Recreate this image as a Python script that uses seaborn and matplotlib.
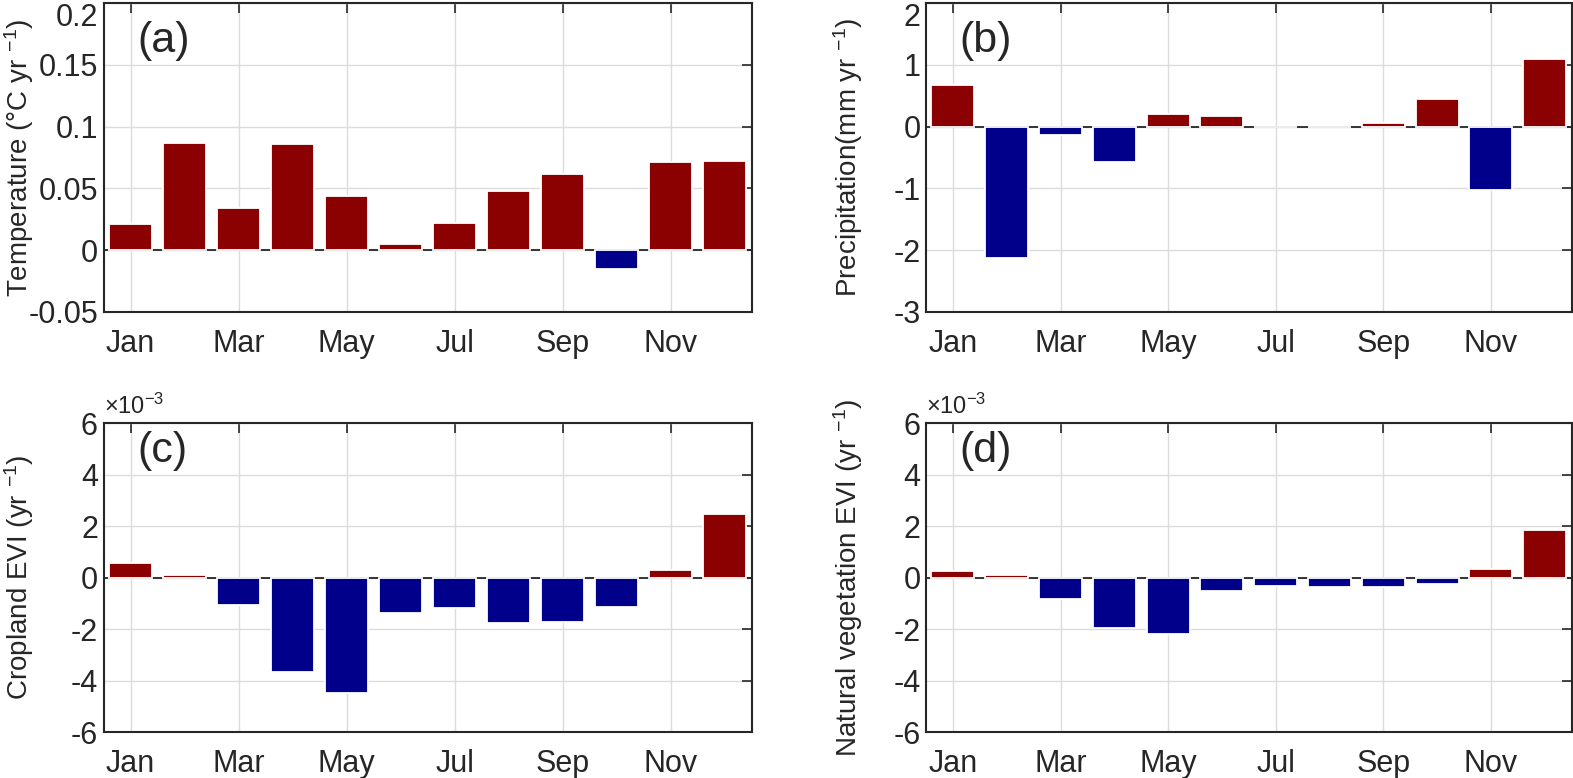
import numpy as np
import pandas as pd
import matplotlib
matplotlib.use('Agg')
import matplotlib.pyplot as plt
import seaborn as sns

months = np.arange(1, 13)
tick_months = [1, 3, 5, 7, 9, 11]
tick_labels = ['Jan', 'Mar', 'May', 'Jul', 'Sep', 'Nov']

# trends, one value per month
temperature = [0.021, 0.087, 0.0345, 0.086, 0.044, 0.005, 0.0224, 0.048, 0.062, -0.0153, 0.071, 0.0726]
precipitation = [0.675, -2.125, -0.13, -0.58, 0.20, 0.17, 0.0, 0.0, 0.055, 0.44, -1.03, 1.09]
cropland_evi = [0.57e-3, 0.12e-3, -1.08e-3, -3.66e-3, -4.50e-3, -1.39e-3, -1.17e-3, -1.77e-3, -1.73e-3, -1.15e-3, 0.28e-3, 2.46e-3]
natural_evi = [0.26e-3, 0.10e-3, -0.81e-3, -1.97e-3, -2.17e-3, -0.53e-3, -0.31e-3, -0.36e-3, -0.36e-3, -0.23e-3, 0.34e-3, 1.85e-3]

sns.set_style('white')
plt.rcParams['font.family'] = ['Liberation Sans', 'DejaVu Sans']
plt.rcParams['mathtext.default'] = 'regular'
plt.rcParams['axes.unicode_minus'] = False

red = '#8b0000'
blue = '#00008b'
spine_col = '#262626'

# values, ylabel, tag, ylim, yticks, scale, rect, label x, tag y
panels = [
    (temperature, 'Temperature (°C yr $^{-1}$)', '(a)', (-0.05, 0.2), [-0.05, 0, 0.05, 0.1, 0.15, 0.2], 1,
     [0.0658, 0.599, 0.412, 0.397], -0.104, 0.877),
    (precipitation, 'Precipitation(mm yr $^{-1}$)', '(b)', (-3, 2), [-3, -2, -1, 0, 1, 2], 1,
     [0.5887, 0.599, 0.4104, 0.397], -0.095, 0.877),
    (cropland_evi, 'Cropland EVI (yr $^{-1}$)', '(c)', (-6e-3, 6e-3), [-6e-3, -4e-3, -2e-3, 0, 2e-3, 4e-3, 6e-3], 1e-3,
     [0.0658, 0.059, 0.412, 0.397], -0.104, 0.91),
    (natural_evi, 'Natural vegetation EVI (yr $^{-1}$)', '(d)', (-6e-3, 6e-3), [-6e-3, -4e-3, -2e-3, 0, 2e-3, 4e-3, 6e-3], 1e-3,
     [0.5887, 0.059, 0.4104, 0.397], -0.095, 0.91),
]

fig = plt.figure(figsize=(15.73, 7.78), dpi=100)

for vals, ylabel, tag, ylim, yticks, scale, rect, lab_x, tag_y in panels:
    ax = fig.add_axes(rect)
    df = pd.DataFrame({'month': months, 'value': vals})
    df['sign'] = np.where(df['value'] >= 0, 'pos', 'neg')
    ax.axhline(0, color=spine_col, lw=1.3, zorder=1)
    sns.barplot(data=df, x='month', y='value', hue='sign', palette={'pos': red, 'neg': blue},
                native_scale=True, dodge=False, width=0.8, errorbar=None, legend=False,
                saturation=1, edgecolor='white', linewidth=1.3, zorder=2, ax=ax)
    ax.set_xlim(0.5, 12.5)
    ax.set_ylim(*ylim)
    ax.set_xticks(tick_months)
    ax.set_xticklabels(tick_labels)
    ax.set_yticks(yticks)
    ax.set_yticklabels(['%g' % (t / scale) for t in yticks])
    if scale != 1:
        ax.text(0.0, 1.015, '×10$^{-3}$', transform=ax.transAxes, fontsize=17,
                ha='left', va='bottom')
    else:
        ax.get_yticklabels()[-1].set_va('top')
    ax.set_xlabel('')
    ax.set_ylabel(ylabel, fontsize=20)
    ax.yaxis.set_label_coords(lab_x, 0.5)
    ax.grid(True, color='#dcdcdc', lw=1.0, zorder=0)
    ax.set_axisbelow(True)
    ax.tick_params(axis='both', direction='in', length=7, width=1.2, color=spine_col,
                   labelsize=22, top=True, right=True)
    ax.tick_params(axis='x', pad=12)
    ax.tick_params(axis='y', pad=4)
    for sp in ax.spines.values():
        sp.set_visible(True)
        sp.set_color(spine_col)
        sp.set_linewidth(1.5)
    ax.text(0.052, tag_y, tag, transform=ax.transAxes, fontsize=31, ha='left', va='center')

fig.savefig('out.png', dpi=100)
